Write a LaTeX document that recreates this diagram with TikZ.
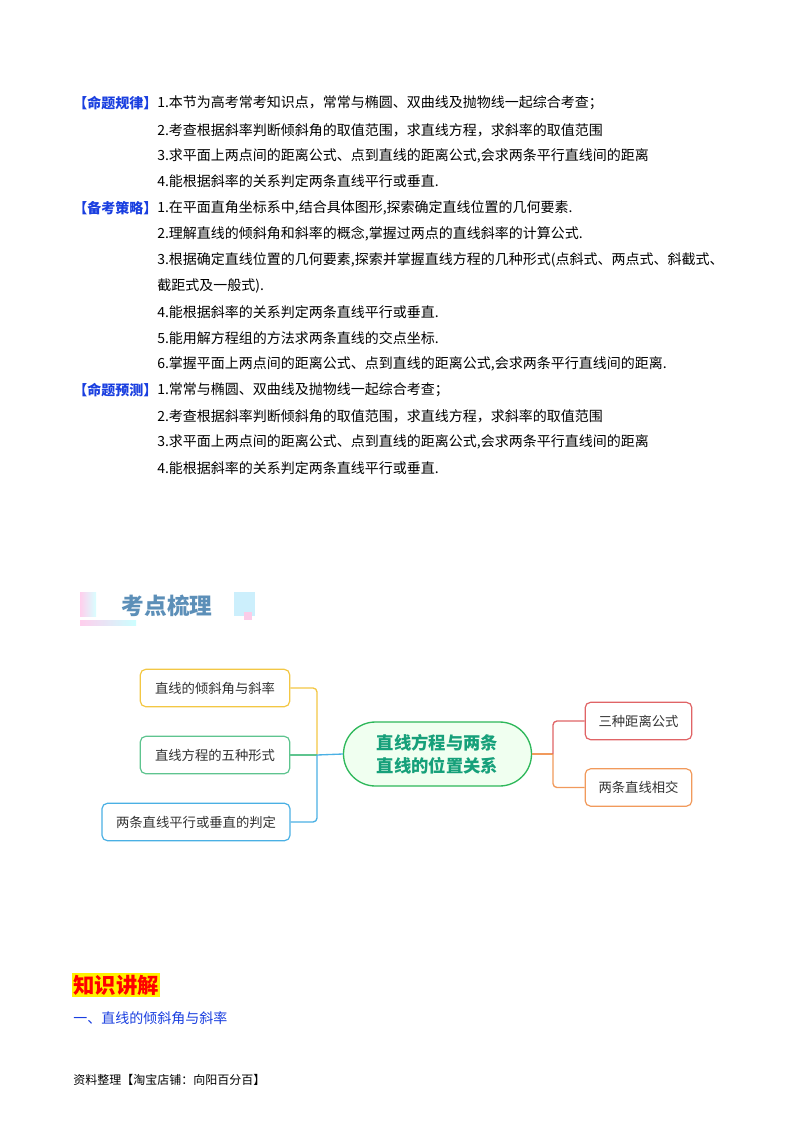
\documentclass[tikz,border=0pt]{standalone}
\usepackage{fontspec}
\setmainfont{Liberation Serif}
\newfontfamily\cjk{Noto Sans CJK SC}
\usetikzlibrary{calc}
\definecolor{lblue}{HTML}{1A3FE0}
\definecolor{cy}{HTML}{F3C744}
\definecolor{cg}{HTML}{5EC48F}
\definecolor{cb}{HTML}{4AB0E4}
\definecolor{cr}{HTML}{E06466}
\definecolor{co}{HTML}{F19A5C}
\definecolor{cc}{HTML}{2EB85A}
\definecolor{ct}{HTML}{16A07A}
\definecolor{hd}{HTML}{5C8FB8}
\begin{document}
\begin{tikzpicture}[x=0.75pt,y=-0.75pt,
  ln/.style={anchor=west,inner sep=0,font=\cjk\fontsize{10.5}{12}\selectfont},
  lab/.style={anchor=west,inner sep=0,font=\cjk\bfseries\fontsize{10.5}{12}\selectfont,text=lblue},
  box/.style={draw,line width=0.9pt,rounded corners=4pt,fill=white,font=\cjk\fontsize{10}{12}\selectfont,text=black!80,inner sep=0,minimum height=28pt},
  conn/.style={line width=1pt}]
\useasboundingbox (0,0) rectangle (800,1132);
\fill[white] (0,0) rectangle (800,1132);
% text block
\node[lab] (l1) at (73,103) {【命题规律】};
\node[ln] (t11) at (157,103) {1.本节为高考常考知识点，常常与椭圆、双曲线及抛物线一起综合考查；};
\node[ln] (t12) at (157,130) {2.考查根据斜率判断倾斜角的取值范围，求直线方程，求斜率的取值范围};
\node[ln] (t13) at (157,156) {3.求平面上两点间的距离公式、点到直线的距离公式,会求两条平行直线间的距离};
\node[ln] (t14) at (157,181) {4.能根据斜率的关系判定两条直线平行或垂直.};
\node[lab] (l2) at (73,208) {【备考策略】};
\node[ln] (t21) at (157,208) {1.在平面直角坐标系中,结合具体图形,探索确定直线位置的几何要素.};
\node[ln] (t22) at (157,234) {2.理解直线的倾斜角和斜率的概念,掌握过两点的直线斜率的计算公式.};
\node[ln] (t23) at (157,260) {3.根据确定直线位置的几何要素,探索并掌握直线方程的几种形式(点斜式、两点式、斜截式、};
\node[ln] (t23b) at (157,286) {截距式及一般式).};
\node[ln] (t24) at (157,312) {4.能根据斜率的关系判定两条直线平行或垂直.};
\node[ln] (t25) at (157,338) {5.能用解方程组的方法求两条直线的交点坐标.};
\node[ln] (t26) at (157,364) {6.掌握平面上两点间的距离公式、点到直线的距离公式,会求两条平行直线间的距离.};
\node[lab] (l3) at (73,390) {【命题预测】};
\node[ln] (t31) at (157,390) {1.常常与椭圆、双曲线及抛物线一起综合考查；};
\node[ln] (t32) at (157,416) {2.考查根据斜率判断倾斜角的取值范围，求直线方程，求斜率的取值范围};
\node[ln] (t33) at (157,442) {3.求平面上两点间的距离公式、点到直线的距离公式,会求两条平行直线间的距离};
\node[ln] (t34) at (157,468) {4.能根据斜率的关系判定两条直线平行或垂直.};
% header decoration
\shade[left color=pink!70!magenta!40,right color=cyan!15] (80,592) rectangle (96,616);
\shade[left color=pink!70!magenta!40,right color=cyan!20] (80,620) rectangle (136,625);
\fill[cyan!20] (234,592) rectangle (255,616);
\fill[magenta!20] (244,612) rectangle (252,620);
\node[inner sep=0,font=\cjk\bfseries\fontsize{17}{20}\selectfont,text=hd] (hdr) at (167,606) {考点梳理};
% mind map
\node[box,draw=cy,minimum width=112pt] (a) at (215,688) {直线的倾斜角与斜率};
\node[box,draw=cg,minimum width=112pt] (b) at (215,755) {直线方程的五种形式};
\node[box,draw=cb,minimum width=141pt] (c) at (196,822) {两条直线平行或垂直的判定};
\node[draw=cc,line width=1pt,fill=green!6,rounded corners=24pt,minimum width=141pt,minimum height=48pt,inner sep=0,align=center,font=\cjk\bfseries\fontsize{13}{17}\selectfont,text=ct] (m) at (437.5,754) {直线方程与两条\\直线的位置关系};
\node[box,draw=cr,minimum width=80pt] (d) at (638.5,721) {三种距离公式};
\node[box,draw=co,minimum width=80pt] (e) at (638.5,787.5) {两条直线相交};
\coordinate (j) at (317,755);
\coordinate (k) at (553,754);
\draw[conn,cy,rounded corners=3pt] (a.east) -| (j);
\draw[conn,cg] (b.east) -- (j);
\draw[conn,cb,rounded corners=3pt] (c.east) -| (j);
\draw[conn,cb] (j) -- (m.west);
\draw[conn,co] (m.east) -- (k);
\draw[conn,cr,rounded corners=3pt] (k) |- (d.west);
\draw[conn,co,rounded corners=3pt] (k) |- (e.west);
% bottom
\node[anchor=west,inner sep=1pt,fill=yellow,text=red,font=\cjk\bfseries\fontsize{16}{18}\selectfont] (zs) at (72,985) {知识讲解};
\node[anchor=west,inner sep=0,text=lblue,font=\cjk\fontsize{10.5}{12}\selectfont] (s1) at (73,1018) {一、直线的倾斜角与斜率};
\node[anchor=west,inner sep=0,font=\cjk\fontsize{9}{11}\selectfont] (ft) at (73,1080) {资料整理【淘宝店铺：向阳百分百】};
\end{tikzpicture}
\end{document}
